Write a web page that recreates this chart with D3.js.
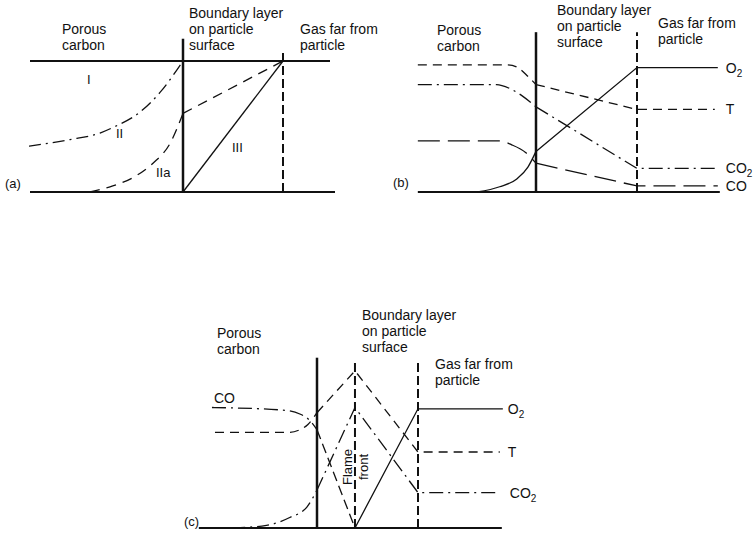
<!DOCTYPE html>
<html><head><meta charset="utf-8">
<script src="https://cdn.jsdelivr.net/npm/d3@7"></script>
<style>
body{margin:0;background:#fff}
text{font-family:"Liberation Sans",Arial,Helvetica,sans-serif;fill:#111}
</style>
</head><body>
<svg id="chart" width="755" height="540"></svg>
<script>
// ---------- DATA (x: distance, surface = 0, outer edge of boundary layer = 1; y: relative level) ----------
// Panel (a)
const aCurveII   = [[-1.54,0.35],[-1.13,0.40],[-0.83,0.45],[-0.68,0.50],[-0.43,0.61],[-0.23,0.76],[0,1.0]];
const aCurveIIa  = [[-0.93,0],[-0.73,0.04],[-0.50,0.11],[-0.30,0.22],[-0.13,0.37],[0,0.60]];
const aBLIIa     = [[0,0.60],[1,1]];
const aBLIII     = [[0,0],[1,1]];
const aTopLine   = [[-1.53,1],[1.47,1]];
const aExtent    = [-1.53,1.52];
const aRomanLabels = ["I","II","IIa","III"];

// Panel (b)
const bSpecies   = ["O2","T","CO2","CO"];
const bInside = {
  T:   [[-1.17,0.97],[-0.28,0.97],[-0.18,0.95],[-0.09,0.89],[0,0.82]],
  CO2: [[-1.17,0.82],[-0.39,0.82],[-0.26,0.79],[-0.13,0.73],[0,0.65]],
  CO:  [[-1.17,0.39],[-0.36,0.39],[-0.24,0.36],[-0.10,0.30],[0,0.22]],
  O2:  [[-0.58,0],[-0.36,0.04],[-0.19,0.10],[-0.08,0.19],[0,0.31]]
};
const bOutside = {
  T:   [[0,0.82],[1,0.63],[1.77,0.63]],
  CO2: [[0,0.65],[1,0.18],[1.80,0.18]],
  CO:  [[0,0.22],[1,0.046],[1.80,0.046]],
  O2:  [[0,0.31],[1,0.95],[1.80,0.95]]
};
const bExtent = [-1.17,1.82];

// Panel (c)
const cFlame = 0.376;
const cInside = {
  T:   [[-1.01,0.73],[-0.27,0.73],[-0.17,0.75],[-0.09,0.79],[0,0.88]],
  CO:  [[-1.04,0.92],[-0.34,0.90],[-0.17,0.87],[-0.07,0.82],[0,0.75]],
  CO2: [[-0.83,0],[-0.50,0.02],[-0.27,0.08],[-0.10,0.16],[0,0.29]]
};
const cOutside = {
  T:   [[0,0.88],[0.376,1.20],[1,0.58],[1.81,0.58]],
  CO:  [[0,0.75],[0.376,0]],
  CO2: [[0,0.29],[0.376,0.92],[1,0.27],[1.81,0.27]],
  O2:  [[0.376,0],[1,0.91],[1.84,0.91]]
};
const cExtent = [-1.17,1.83];

const regionPorous   = ["Porous","carbon"];
const regionBoundary = ["Boundary layer","on particle","surface"];
const regionGas      = ["Gas far from","particle"];
const panelTags      = ["(a)","(b)","(c)"];
const flameText      = ["Flame","front"];

// ---------- DRAWING ----------
const svg = d3.select("#chart");
const UNIT_Y = 131;

function makePanel(surf, edge, base){
  const x = d3.scaleLinear().domain([0,1]).range([surf, edge]);
  const y = d3.scaleLinear().domain([0,1]).range([base, base-UNIT_Y]);
  const g = svg.append("g");
  return {x,y,g};
}
function path(p, data, dash, w, curve){
  const ln = d3.line().x(d=>p.x(d[0])).y(d=>p.y(d[1])).curve(curve||d3.curveLinear);
  p.g.append("path").attr("d", ln(data)).attr("fill","none").attr("stroke","#111")
    .attr("stroke-width", w||1.3).attr("stroke-dasharray", dash||null)
    .attr("stroke-linecap","butt");
}
function vline(p, xv, top, dash, w){
  p.g.append("line").attr("x1",p.x(xv)).attr("x2",p.x(xv)).attr("y1",p.y(0)).attr("y2",p.y(top))
    .attr("stroke","#111").attr("stroke-width",w).attr("stroke-dasharray",dash||null);
}
function baseline(p, ext){
  p.g.append("line").attr("x1",p.x(ext[0])).attr("x2",p.x(ext[1])).attr("y1",p.y(0)).attr("y2",p.y(0))
    .attr("stroke","#111").attr("stroke-width",2);
}
function textLines(g, lines, x, y0, lh, size){
  lines.forEach((t,i)=>g.append("text").attr("x",x).attr("y",y0+i*lh).attr("font-size",size||14).text(t));
}
function species(g, name, x, y){
  const t = g.append("text").attr("x",x).attr("y",y).attr("font-size",14);
  const m = name.match(/^([A-Z]+)(\d?)$/);
  t.append("tspan").text(m[1]);
  if(m[2]) t.append("tspan").attr("font-size",10).attr("dy",4).text(m[2]);
}
const DASH_T = "9,6", DASH_CO2 = "14,5,2,5", DASH_CO = "22,8", DASH_V = "9,4";

// Panel (a)
const pa = makePanel(183, 283, 192);
baseline(pa, aExtent);
path(pa, aTopLine, null, 2);
vline(pa, 0, 1.17, null, 2.5);
vline(pa, 1, 1.09, DASH_V, 2);
path(pa, aCurveII, "12,5,2,5", 1.3, d3.curveMonotoneX);
path(pa, aCurveIIa, "10,7", 1.3, d3.curveMonotoneX);
path(pa, aBLIIa, "10,7", 1.3);
path(pa, aBLIII, null, 1.3);
const romanPos = [[87,84],[116,138],[156,177],[232,152]];
aRomanLabels.forEach((t,i)=>pa.g.append("text").attr("x",romanPos[i][0]).attr("y",romanPos[i][1]).attr("font-size",13).text(t));
textLines(pa.g, regionPorous, 62, 34, 16);
textLines(pa.g, regionBoundary, 189, 18, 16);
textLines(pa.g, regionGas, 300, 34, 16);
pa.g.append("text").attr("x",5).attr("y",188).attr("font-size",13).text(panelTags[0]);

// Panel (b)
const pb = makePanel(536, 637, 192);
baseline(pb, bExtent);
vline(pb, 0, 1.22, null, 2.5);
vline(pb, 1, 1.22, DASH_V, 2);
const bDash = {O2:null, T:DASH_T, CO2:DASH_CO2, CO:DASH_CO};
bSpecies.forEach(s=>{
  path(pb, bInside[s], bDash[s], 1.3, d3.curveMonotoneX);
  path(pb, bOutside[s], bDash[s], 1.3);
  const last = bOutside[s][bOutside[s].length-1];
  species(pb.g, s, pb.x(1.80)+8, pb.y(last[1])+5);
});
textLines(pb.g, regionPorous, 437, 35, 16);
textLines(pb.g, regionBoundary, 557, 15, 16);
textLines(pb.g, regionGas, 658, 28, 16);
pb.g.append("text").attr("x",393).attr("y",187).attr("font-size",13).text(panelTags[1]);

// Panel (c)
const pc = makePanel(317, 418, 528);
baseline(pc, cExtent);
vline(pc, 0, 1.30, null, 2.5);
vline(pc, cFlame, 1.26, DASH_V, 2);
vline(pc, 1, 1.26, DASH_V, 2);
path(pc, cInside.T, DASH_T, 1.3, d3.curveMonotoneX);
path(pc, cOutside.T, DASH_T, 1.3);
path(pc, cInside.CO, DASH_CO2, 1.3, d3.curveMonotoneX);
path(pc, cOutside.CO, "10,5", 1.3);
path(pc, cInside.CO2, "12,5,2,5", 1.3, d3.curveMonotoneX);
path(pc, cOutside.CO2, DASH_CO2, 1.3);
path(pc, cOutside.O2, null, 1.3);
species(pc.g, "O2", pc.x(1.84)+5, pc.y(0.91)+5);
species(pc.g, "T", pc.x(1.81)+8, pc.y(0.58)+5);
species(pc.g, "CO2", pc.x(1.81)+10, pc.y(0.27)+5);
species(pc.g, "CO", pc.x(-1.02), pc.y(0.92)-4);
textLines(pc.g, regionPorous, 217, 338, 16);
textLines(pc.g, regionBoundary, 362, 320, 16);
textLines(pc.g, regionGas, 435, 369, 16);
pc.g.append("text").attr("x",184).attr("y",526).attr("font-size",13).text(panelTags[2]);
const fx = pc.x(cFlame), fy = 467;
pc.g.append("text").attr("transform",`translate(${fx-3},${fy}) rotate(-90)`).attr("text-anchor","middle").attr("font-size",13).text(flameText[0]);
pc.g.append("text").attr("transform",`translate(${fx+13},${fy}) rotate(-90)`).attr("text-anchor","middle").attr("font-size",13).text(flameText[1]);
</script>
</body></html>
